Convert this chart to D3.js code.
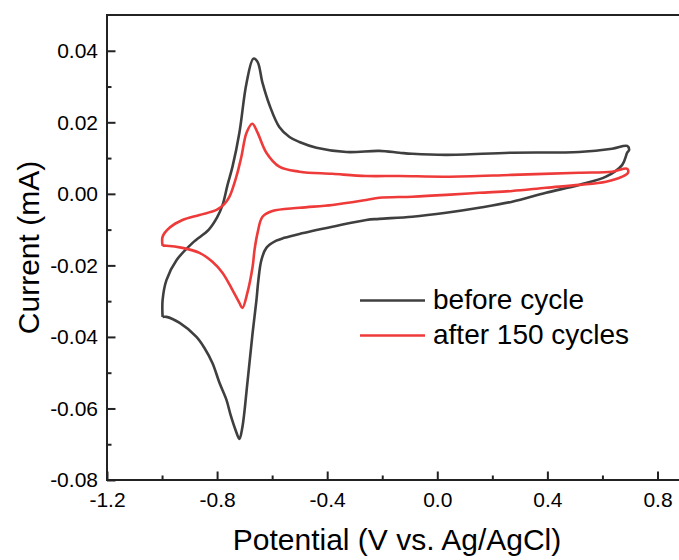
<!DOCTYPE html>
<html>
<head>
<meta charset="utf-8">
<script src="https://cdn.jsdelivr.net/npm/d3@7"></script>
<style>
  body { margin: 0; background: #fff; }
  svg { display: block; font-family: "Liberation Sans", Arial, sans-serif; }
</style>
</head>
<body>
<svg id="cv-chart"></svg>
<script>
// potential (V) / current (mA)
const beforeV = [-0.998, -0.998, -0.984, -0.947, -0.889, -0.830, -0.800, -0.780, -0.762, -0.744, -0.719, -0.693, -0.668, -0.653, -0.635, -0.610, -0.574, -0.537, -0.501, -0.439, -0.330, -0.211, -0.138, -0.091, 0.032, 0.272, 0.515, 0.635, 0.690,
  0.697, 0.690, 0.672, 0.613, 0.515, 0.395, 0.272, 0.152, 0.032, -0.091, -0.211, -0.258, -0.381, -0.501, -0.556, -0.585, -0.621, -0.639, -0.650, -0.657, -0.671, -0.690, -0.708, -0.719, -0.733, -0.751, -0.766, -0.791, -0.817, -0.846, -0.875, -0.936, -0.984, -0.998];
const beforeI = [-0.0344, -0.0297, -0.0241, -0.0185, -0.0137, -0.0100, -0.0066, -0.0031, 0.0025, 0.0076, 0.0171, 0.0310, 0.0378, 0.0369, 0.0310, 0.0249, 0.0187, 0.0159, 0.0145, 0.0129, 0.0117, 0.0120, 0.0115, 0.0112, 0.0109, 0.0115, 0.0117, 0.0126, 0.0134,
  0.0123, 0.0115, 0.0081, 0.0048, 0.0025, 0.0003, -0.0022, -0.0039, -0.0053, -0.0064, -0.0070, -0.0073, -0.0092, -0.0112, -0.0123, -0.0131, -0.0151, -0.0185, -0.0241, -0.0297, -0.0389, -0.0529, -0.0652, -0.0685, -0.0660, -0.0618, -0.0576, -0.0529, -0.0473, -0.0431, -0.0400, -0.0361, -0.0344, -0.0344];

const afterV = [-0.998, -0.998, -0.973, -0.926, -0.864, -0.802, -0.773, -0.755, -0.730, -0.712, -0.693, -0.672, -0.653, -0.621, -0.574, -0.501, -0.381, -0.258, -0.138, 0.032, 0.272, 0.515, 0.635, 0.690,
  0.693, 0.672, 0.613, 0.515, 0.395, 0.272, 0.152, 0.032, -0.091, -0.211, -0.258, -0.381, -0.501, -0.599, -0.635, -0.653, -0.664, -0.671, -0.690, -0.708, -0.719, -0.744, -0.780, -0.817, -0.864, -0.926, -0.984, -0.998];
const afterI = [-0.0145, -0.0120, -0.0095, -0.0073, -0.0059, -0.0045, -0.0028, -0.0008, 0.0048, 0.0103, 0.0171, 0.0196, 0.0171, 0.0115, 0.0076, 0.0062, 0.0056, 0.0050, 0.0050, 0.0048, 0.0053, 0.0059, 0.0062, 0.0070,
  0.0059, 0.0048, 0.0034, 0.0025, 0.0017, 0.0008, 0.0003, -0.0003, -0.0008, -0.0011, -0.0017, -0.0031, -0.0039, -0.0048, -0.0064, -0.0109, -0.0157, -0.0204, -0.0277, -0.0319, -0.0305, -0.0269, -0.0221, -0.0190, -0.0165, -0.0151, -0.0145, -0.0145];

const seriesNames = ["before cycle", "after 150 cycles"];
const seriesColors = ["#3f3f3f", "#ef3a3a"];

const xMajor = [-1.2, -0.8, -0.4, 0.0, 0.4, 0.8];
const xMinor = [-1.0, -0.6, -0.2, 0.2, 0.6];
const yMajor = [-0.08, -0.06, -0.04, -0.02, 0.00, 0.02, 0.04];
const yMinor = [-0.07, -0.05, -0.03, -0.01, 0.01, 0.03];

const svgWidth = 679, svgHeight = 560;
const margin = { top: 15, left: 107, bottom: 80 };
const plotRight = 685;  // frame runs past the right edge of the picture
const chartWidth = plotRight - margin.left;
const chartHeight = svgHeight - margin.top - margin.bottom;

const xScale = d3.scaleLinear().domain([-1.2, 0.9]).range([0, chartWidth]);
const yScale = d3.scaleLinear().domain([-0.08, 0.05]).range([chartHeight, 0]);

// plain hyphen for negatives, like the original
const fmt = p => d => d3.format(p)(d).replace('\u2212', '-');

const svg = d3.select('#cv-chart')
  .attr('width', svgWidth)
  .attr('height', svgHeight);

const g = svg.append('g')
  .attr('transform', `translate(${margin.left}, ${margin.top})`);

// curves
const line = d3.line()
  .x(d => xScale(d[0]))
  .y(d => yScale(d[1]))
  .curve(d3.curveCatmullRom.alpha(0.5));

const series = [
  d3.zip(beforeV, beforeI),
  d3.zip(afterV, afterI)
];

g.selectAll('.cv')
  .data(series)
  .enter()
  .append('path')
  .attr('class', 'cv')
  .attr('d', line)
  .attr('fill', 'none')
  .attr('stroke', (d, i) => seriesColors[i])
  .attr('stroke-width', 2.6)
  .attr('stroke-linejoin', 'round');

// frame
g.append('rect')
  .attr('x', 0).attr('y', 0)
  .attr('width', chartWidth).attr('height', chartHeight)
  .attr('fill', 'none')
  .attr('stroke', '#222')
  .attr('stroke-width', 2);

// axes, ticks pointing inwards
g.append('g')
  .attr('transform', `translate(0, ${chartHeight})`)
  .call(d3.axisBottom(xScale).tickValues(xMajor).tickSize(-8.5).tickPadding(12)
    .tickFormat(fmt('.1f')));
g.append('g')
  .attr('transform', `translate(0, ${chartHeight})`)
  .call(d3.axisBottom(xScale).tickValues(xMinor).tickSize(-4.5).tickFormat(''));

g.append('g')
  .call(d3.axisLeft(yScale).tickValues(yMajor).tickSize(-8.5).tickPadding(9)
    .tickFormat(fmt('.2f')));
g.append('g')
  .call(d3.axisLeft(yScale).tickValues(yMinor).tickSize(-4.5).tickFormat(''));

g.selectAll('.domain').remove();
g.selectAll('.tick line').attr('stroke', '#222').attr('stroke-width', 2);
g.selectAll('.tick text')
  .attr('fill', '#000')
  .style('font-size', '21px')
  .style('font-family', '"Liberation Sans", Arial, sans-serif');

// axis titles
svg.append('text')
  .attr('x', 397)
  .attr('y', 550)
  .attr('text-anchor', 'middle')
  .style('font-size', '30px')
  .text('Potential (V vs. Ag/AgCl)');

svg.append('text')
  .attr('transform', `translate(39, ${margin.top + chartHeight / 2}) rotate(-90)`)
  .attr('text-anchor', 'middle')
  .style('font-size', '30px')
  .text('Current (mA)');

// legend
const legend = svg.append('g');
seriesNames.forEach((name, i) => {
  const y = 300.5 + i * 35;
  legend.append('line')
    .attr('x1', 360).attr('x2', 425)
    .attr('y1', y).attr('y2', y)
    .attr('stroke', seriesColors[i])
    .attr('stroke-width', 2.6);
  legend.append('text')
    .attr('x', 433)
    .attr('y', y + 8.5)
    .style('font-size', '28px')
    .text(name);
});
</script>
</body>
</html>
